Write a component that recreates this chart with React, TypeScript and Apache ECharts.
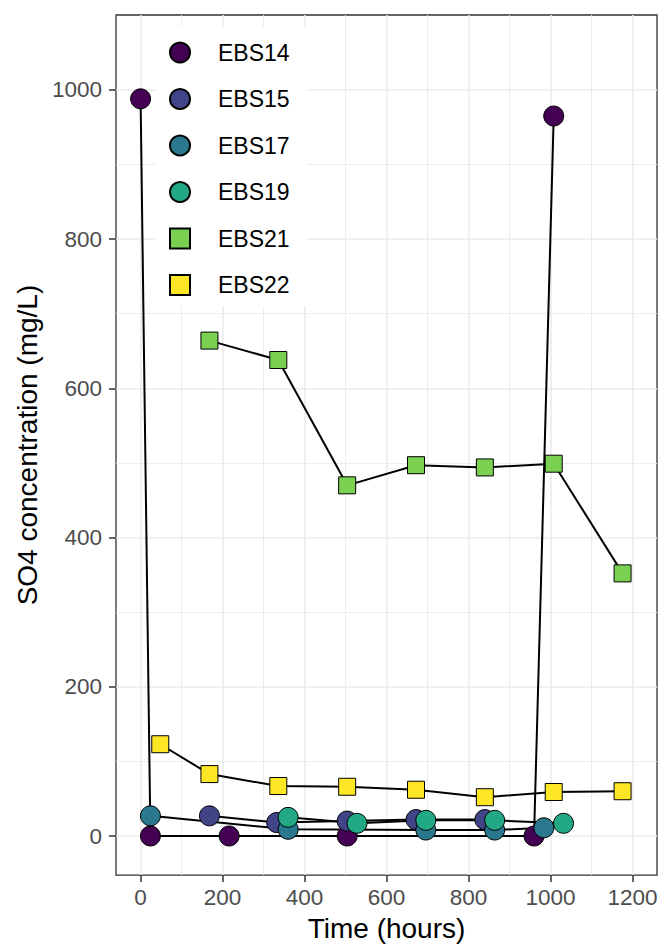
import React, { useEffect, useRef } from "react";
import * as echarts from "echarts";

const seriesNames = ["EBS14", "EBS15", "EBS17", "EBS19", "EBS21", "EBS22"];
const seriesColors = ["#440154", "#414487", "#2A788E", "#22A884", "#7AD151", "#FDE725"];
const seriesShapes = ["circle", "circle", "circle", "circle", "rect", "rect"];

const ebs14Time = [0, 24, 216, 504, 960, 1008];
const ebs14SO4 = [988, 0, 0, 0, 0, 965];
const ebs15Time = [168, 332, 504, 672, 840];
const ebs15SO4 = [27, 18, 20, 22, 22];
const ebs17Time = [24, 360, 696, 864, 984];
const ebs17SO4 = [27, 9, 8, 8, 11];
const ebs19Time = [360, 528, 696, 864, 1032];
const ebs19SO4 = [25, 17, 21, 21, 17];
const ebs21Time = [168, 336, 504, 672, 840, 1008, 1176];
const ebs21SO4 = [664, 638, 470, 497, 494, 499, 352];
const ebs22Time = [48, 168, 336, 504, 672, 840, 1008, 1176];
const ebs22SO4 = [123, 83, 67, 66, 62, 52, 59, 60];

const xTicks = [0, 200, 400, 600, 800, 1000, 1200];
const xMinorTicks = [100, 300, 500, 700, 900, 1100];
const yTicks = [0, 200, 400, 600, 800, 1000];
const yMinorTicks = [100, 300, 500, 700, 900];

const FONT = "'Liberation Sans', Arial, Helvetica, sans-serif";

export default function App() {
  const ref = useRef<HTMLDivElement>(null);
  useEffect(() => {
    if (!ref.current) return;
    const chart = echarts.init(ref.current, undefined, { renderer: "svg" });
    const times = [ebs14Time, ebs15Time, ebs17Time, ebs19Time, ebs21Time, ebs22Time];
    const values = [ebs14SO4, ebs15SO4, ebs17SO4, ebs19SO4, ebs21SO4, ebs22SO4];
    const pairs = times.map((t, i) => t.map((x, j) => [x, values[i][j]]));

    const lineSeries = seriesNames.map((n, i) => ({
      type: "line",
      name: n + " path",
      data: pairs[i],
      xAxisIndex: 0,
      yAxisIndex: 0,
      symbol: "none",
      showSymbol: false,
      silent: true,
      lineStyle: { color: "#000", width: 2 },
      z: 2,
    }));
    const pointSeries = seriesNames.map((n, i) => ({
      type: "scatter",
      name: n,
      data: pairs[i],
      xAxisIndex: 0,
      yAxisIndex: 0,
      symbol: seriesShapes[i],
      symbolSize: seriesShapes[i] === "circle" ? 20 : 17,
      itemStyle: { color: seriesColors[i], borderColor: "#000", borderWidth: 1, opacity: 1 },
      z: 3,
    }));

    const majorLine = { color: "#EBEBEB", width: 1.6 };
    const minorLine = { color: "#EBEBEB", width: 0.9 };
    const plain = (v: number) => String(v);

    chart.setOption({
      animation: false,
      textStyle: { fontFamily: FONT },
      grid: {
        left: 116,
        right: 6,
        top: 15,
        bottom: 71.5,
        show: true,
        borderColor: "#333333",
        borderWidth: 1.3,
        backgroundColor: "transparent",
      },
      legend: {
        show: true,
        data: seriesNames.map((n, i) => ({ name: n, icon: seriesShapes[i] })),
        orient: "vertical",
        left: 155,
        top: 27,
        padding: [14, 17, 10, 14],
        itemWidth: 20,
        itemHeight: 20,
        itemGap: 23.5,
        backgroundColor: "#ffffff",
        selectedMode: false,
        textStyle: { fontSize: 23, color: "#000", padding: [0, 0, 0, 23], lineHeight: 20, fontFamily: FONT },
        z: 5,
      },
      xAxis: [
        {
          type: "value",
          min: -60,
          max: 1260,
          position: "bottom",
          axisLine: { show: false, onZero: false },
          axisTick: { show: true, customValues: xTicks, length: 7, lineStyle: { color: "#333333", width: 1.5 } },
          axisLabel: { show: true, customValues: xTicks, formatter: plain, fontSize: 22.5, color: "#4D4D4D", margin: 11, fontFamily: FONT },
          splitLine: { show: true, lineStyle: majorLine },
          name: "Time (hours)",
          nameLocation: "middle",
          nameGap: 37,
          nameTextStyle: { fontSize: 28, color: "#000", fontFamily: FONT },
        },
        {
          type: "value",
          min: -60,
          max: 1260,
          position: "top",
          axisLine: { show: false, onZero: false },
          axisTick: { show: false, customValues: xMinorTicks },
          axisLabel: { show: false, customValues: xMinorTicks },
          splitLine: { show: true, lineStyle: minorLine },
        },
      ],
      yAxis: [
        {
          type: "value",
          min: -52.4,
          max: 1100.4,
          position: "left",
          axisLine: { show: false, onZero: false },
          axisTick: { show: true, customValues: yTicks, length: 7, lineStyle: { color: "#333333", width: 1.5 } },
          axisLabel: { show: true, customValues: yTicks, formatter: plain, fontSize: 22.5, color: "#4D4D4D", margin: 14, fontFamily: FONT },
          splitLine: { show: true, lineStyle: majorLine },
          name: "SO4 concentration (mg/L)",
          nameLocation: "middle",
          nameGap: 69,
          nameTextStyle: { fontSize: 28, color: "#000", fontFamily: FONT },
        },
        {
          type: "value",
          min: -52.4,
          max: 1100.4,
          position: "right",
          axisLine: { show: false, onZero: false },
          axisTick: { show: false, customValues: yMinorTicks },
          axisLabel: { show: false, customValues: yMinorTicks },
          splitLine: { show: true, lineStyle: minorLine },
        },
      ],
      series: [...lineSeries, ...pointSeries],
    });
    return () => chart.dispose();
  }, []);
  return (
    <div
      ref={ref}
      style={{ position: "fixed", left: 0, top: 0, width: 663, height: 947, background: "#fff" }}
    />
  );
}
